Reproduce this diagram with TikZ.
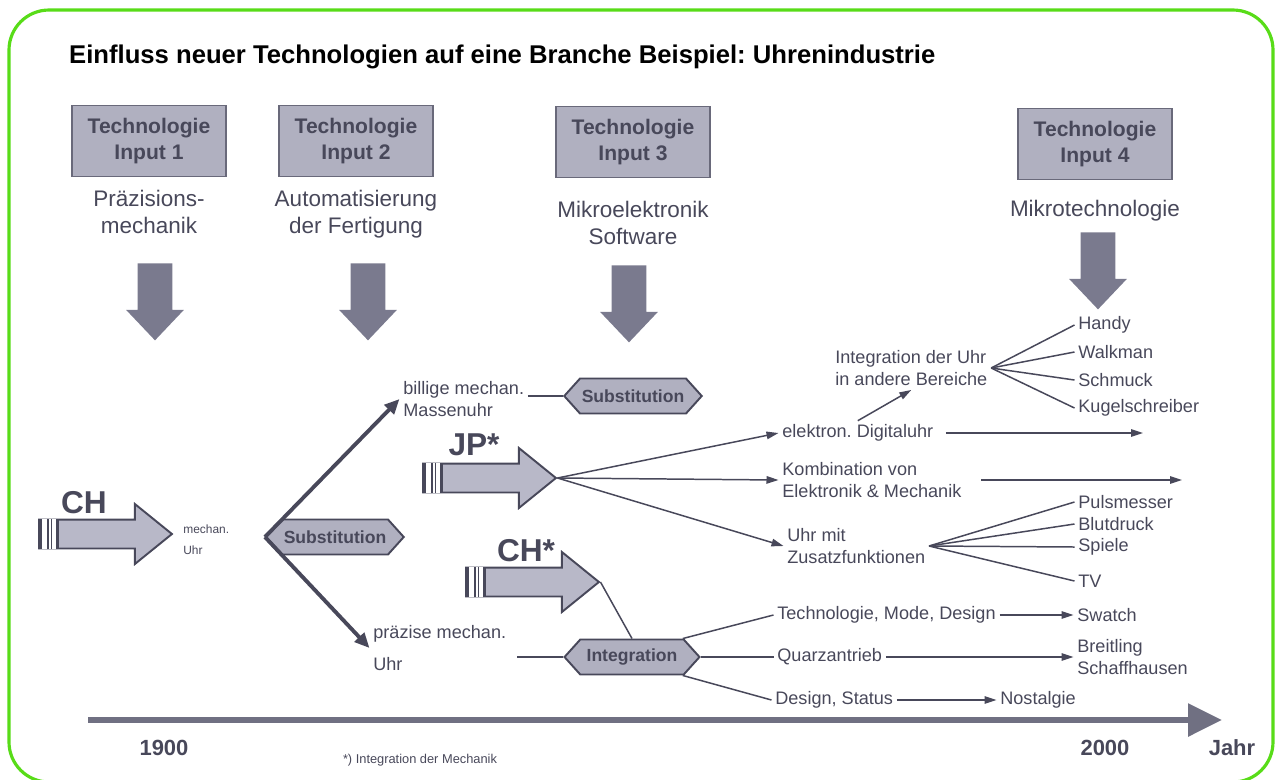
\documentclass[tikz,border=0pt]{standalone}
\usepackage{fontspec}
\setmainfont{Liberation Sans}
\usetikzlibrary{shapes.arrows,shapes.symbols,arrows.meta}
\frenchspacing

\definecolor{frame}{RGB}{88,220,24}
\definecolor{ink}{RGB}{72,72,90}
\definecolor{boxfill}{RGB}{176,176,192}
\definecolor{boxline}{RGB}{105,105,122}
\definecolor{downfill}{RGB}{122,122,142}
\definecolor{arrowfill}{RGB}{184,184,200}
\definecolor{axisgray}{RGB}{112,112,130}

\tikzset{
  techbox/.style={draw=boxline, fill=boxfill, line width=1pt, minimum width=3.08cm, minimum height=1.42cm,
    align=center, font=\fontsize{12}{15.3}\selectfont\bfseries, text=ink},
  fieldtext/.style={align=center, font=\fontsize{12.8}{15.3}\selectfont, text=ink},
  downarrow/.style={single arrow, fill=downfill, inner xsep=0pt, inner ysep=0.34cm, minimum height=1.54cm,
    single arrow head extend=0.23cm, single arrow tip angle=87, rotate=-90, anchor=tail},
  bigarrow/.style={single arrow, fill=arrowfill, draw=ink, line width=1.1pt, inner xsep=0pt, inner ysep=0.27cm,
    minimum height=2.66cm, single arrow head extend=0.31cm, single arrow tip angle=78, anchor=tail},
  biglabel/.style={font=\fontsize{18}{20}\selectfont\bfseries, text=ink},
  hexbox/.style={signal, signal to=west and east, signal pointer angle=96, draw=ink, fill=boxfill, line width=1.1pt,
    minimum width=2.7cm, minimum height=0.7cm, inner sep=1pt, font=\fontsize{10}{12}\selectfont\bfseries, text=ink},
  lbl/.style={anchor=west, align=left, inner sep=2pt, font=\fontsize{10.3}{13}\selectfont, text=ink},
  small/.style={anchor=west, align=left, inner sep=2pt, font=\fontsize{6.8}{12}\selectfont, text=ink},
  conn/.style={draw=ink, line width=0.85pt},
  arr/.style={conn, -{Triangle[length=0.24cm,width=0.15cm]}},
  thickarr/.style={draw=ink, line width=2.2pt, -{Triangle[length=0.3cm,width=0.26cm]}},
  year/.style={font=\fontsize{12.5}{14}\selectfont\bfseries, text=ink}
}

\newcommand\tailstripes[1]{
  \fill[white] ([xshift=0.08cm]#1.before tail) rectangle ([xshift=0.37cm]#1.after tail);
  \draw[ink, line width=1.6pt] ([xshift=0.05cm]#1.before tail) -- ([xshift=0.05cm]#1.after tail);
  \foreach \dx in {0.2,0.27}
    \draw[ink, line width=0.6pt] ([xshift=\dx cm]#1.before tail) -- ([xshift=\dx cm]#1.after tail);
  \draw[ink, line width=1.2pt] ([xshift=0.39cm]#1.before tail) -- ([xshift=0.39cm]#1.after tail);
}

\begin{document}
\begin{tikzpicture}[x=0.02cm, y=-0.02cm]
\clip (0,0) rectangle (1276,779);
\draw[frame, line width=1.8pt, rounded corners=0.8cm] (9,10) rectangle (1273,782);
\node[anchor=base west, font=\fontsize{14.6}{17}\selectfont\bfseries] (title) at (63,63)
  {Einfluss neuer Technologien auf eine Branche Beispiel: Uhrenindustrie};

\foreach \n/\bx/\by/\fy/\ax/\ay/\txt in {1/149/141/212/155/263/{Präzisions-\\mechanik},
    2/356/141/214/368/263/{Automatisierung\\der Fertigung}, 3/633/142/223/629/265/{Mikroelektronik\\Software},
    4/1095/144/211/1098/232/{Mikrotechnologie}}{
  \node[techbox] (tech\n) at (\bx,\by) {Technologie\\Input \n};
  \node[fieldtext] (field\n) at (\bx,\fy) {\txt};
  \node[downarrow] (down\n) at (\ax,\ay) {};
}

\node[bigarrow] (ch) at (38,534) {};
\tailstripes{ch}
\node[biglabel] (chlabel) at (84,503) {CH};
\node[bigarrow] (jp) at (422,478) {};
\tailstripes{jp}
\node[biglabel] (jplabel) at (474,445) {JP*};
\node[bigarrow] (chs) at (465,582) {};
\tailstripes{chs}
\node[biglabel] (chslabel) at (526,551) {CH*};

\node[small] (mu) at (179.5,540) {mechan.\\Uhr};
\node[hexbox] (subst1) at (335,537) {Substitution};
\node[lbl] (bm) at (399.5,399) {billige mechan.\\Massenuhr};
\node[lbl, font=\fontsize{10.3}{18}\selectfont] (pm) at (369.5,648) {präzise mechan.\\Uhr};
\draw[thickarr] (subst1.west) -- (bm.west);
\draw[thickarr] (subst1.west) -- (pm.west);
\node[hexbox] (subst2) at (633,396) {Substitution};
\draw[conn] (subst2.west -| bm.east) -- (subst2.west);
\node[hexbox] (integ) at (632,657) {Integration};
\draw[conn, shorten <=4pt] (integ.west -| pm.east) -- (integ.west);
\draw[conn] (chs.tip) -- (integ.north);

\node[lbl] (ed) at (778.5,433) {elektron. Digitaluhr};
\node[lbl] (kem) at (778.5,480) {Kombination von\\Elektronik \& Mechanik};
\node[lbl] (uz) at (783.5,546) {Uhr mit\\Zusatzfunktionen};
\coordinate (edend) at (1143,433);
\coordinate (kemend) at (1182,480);
\foreach \t in {ed,kem,uz}
  \draw[arr] (jp.tip) -- (\t.west);
\draw[arr, shorten <=5pt] (ed.east) -- (edend);
\draw[arr, shorten <=9pt] (kem.east) -- (kemend);

\node[lbl] (iu) at (831.5,368) {Integration der Uhr\\in andere Bereiche};
\draw[arr] (ed.north) -- (iu.south);
\foreach \t/\y [count=\i] in {Handy/325, Walkman/352, Schmuck/380, Kugelschreiber/408}{
  \node[lbl] (ib\i) at (1074.5,\y) {\t};
  \draw[conn] (iu.east) -- (ib\i.west);
}
\foreach \t/\y [count=\i] in {Pulsmesser/502, Blutdruck/524, Spiele/547, TV/581}{
  \node[lbl] (zf\i) at (1074.5,\y) {\t};
  \draw[conn] (uz.east) -- (zf\i.west);
}

\node[lbl] (tmd) at (773.5,615) {Technologie, Mode, Design};
\node[lbl] (qa) at (773.5,657) {Quarzantrieb};
\node[lbl] (ds) at (771.5,700) {Design, Status};
\node[lbl] (swatch) at (1073.5,615) {Swatch};
\node[lbl] (breit) at (1073.5,657) {Breitling\\Schaffhausen};
\node[lbl] (nost) at (996.5,700) {Nostalgie};
\draw[conn] (integ.20) -- (tmd.west);
\draw[conn] (integ.east) -- (qa.west);
\draw[conn] (integ.-20) -- (ds.west);
\draw[arr] (tmd.east) -- (swatch.west);
\draw[arr] (qa.east) -- (breit.west);
\draw[arr] (ds.east) -- (nost.west);

\coordinate (ax0) at (88,720);
\coordinate (ax1) at (1222,720);
\draw[axisgray, line width=3.4pt, -{Triangle[length=0.68cm,width=0.64cm]}] (ax0) -- (ax1);
\node[year] (y1900) at (164,748) {1900};
\node[year] (y2000) at (1105,748) {2000};
\node[year] (jahr) at (1232,748) {Jahr};
\node[font=\fontsize{7.3}{9}\selectfont, text=ink] (note) at (420,760) {*) Integration der Mechanik};
\end{tikzpicture}
\end{document}
